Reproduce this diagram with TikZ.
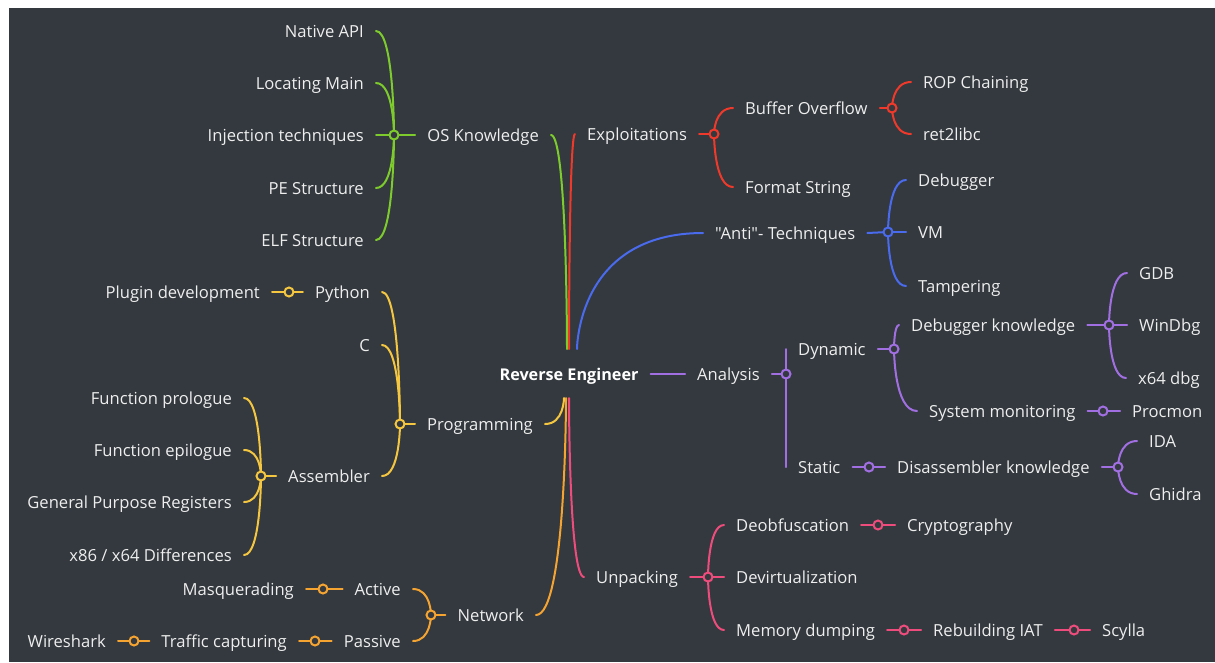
\documentclass[tikz,border=0pt]{standalone}
\usepackage{fontspec}
\setmainfont{Open Sans}[Ligatures=TeXOff]
\usetikzlibrary{calc}
\definecolor{bgdark}{HTML}{33393E}
\definecolor{txtgrey}{HTML}{EEEEEE}
\definecolor{osgreen}{HTML}{7DCB2C}
\definecolor{expred}{HTML}{F0392A}
\definecolor{antiblue}{HTML}{4A6BEE}
\definecolor{anapurple}{HTML}{A26FE2}
\definecolor{unppink}{HTML}{EE4C7C}
\definecolor{prgyellow}{HTML}{F5C640}
\definecolor{netorange}{HTML}{F5A431}
\tikzset{lbl/.style={text=txtgrey,inner xsep=12pt,inner ysep=0pt,text height=14pt,text depth=2pt,font=\fontsize{16.6}{19}\selectfont},
  rootlbl/.style={lbl,text=white,font=\fontsize{16.2}{19}\selectfont\bfseries},
  link/.style={line width=2pt,line cap=round},
  hub/.style={line width=2pt,fill=bgdark},
  brace/.style={to path={.. controls (\tikztotarget |- \tikztostart) and (\tikztotarget) .. (\tikztotarget)}}}

\begin{document}
\begin{tikzpicture}[x=1pt,y=-1pt]
\useasboundingbox (0,0) rectangle (1215,662);
\fill[white] (0,0) rectangle (1215,662);\fill[bgdark] (9,8) rectangle (1215,662);
% root
\node[rootlbl] (re) at (569,374) {Reverse Engineer};
\coordinate (rt1) at (567,349);\coordinate (rt2) at (569,349);\coordinate (rt3) at (577,349);
\coordinate (rb1) at (564,398);\coordinate (rb2) at (566,398);\coordinate (rb3) at (569,398);
% OS Knowledge
\node[lbl,anchor=east] (os) at (551,135) {OS Knowledge};\coordinate (hOS) at (394,135);
\node[lbl,anchor=east] (nat) at (376,31) {Native API};\node[lbl,anchor=east] (loc) at (376,83) {Locating Main};
\node[lbl,anchor=east] (inj) at (376,135) {Injection techniques};\node[lbl,anchor=east] (pe) at (376,188) {PE Structure};
\node[lbl,anchor=east] (elf) at (376,240) {ELF Structure};
\begin{scope}[link,osgreen]
\draw[brace] (os.east) to (rt1);\draw (os.west) -- (hOS);
\foreach \n in {nat,loc,inj,pe,elf} \draw[brace] (\n.east) to (hOS);
\draw[hub] (hOS) circle (4.5pt);
\end{scope}
% Exploitations
\node[lbl,anchor=west] (exp) at (575,134) {Exploitations};\coordinate (hExp) at (714,134);
\node[lbl,anchor=west] (bof) at (733,108) {Buffer Overflow};\node[lbl,anchor=west] (fmt) at (733,187) {Format String};
\coordinate (hBof) at (892,108);
\node[lbl,anchor=west] (rop) at (911,82) {ROP Chaining};\node[lbl,anchor=west] (r2l) at (911,134) {ret2libc};
\begin{scope}[link,expred]
\draw[brace] (exp.west) to (rt2);\draw (exp.east) -- (hExp);\draw (bof.east) -- (hBof);
\foreach \n in {bof,fmt} \draw[brace] (\n.west) to (hExp);
\foreach \n in {rop,r2l} \draw[brace] (\n.west) to (hBof);
\draw[hub] (hExp) circle (4.5pt);\draw[hub] (hBof) circle (4.5pt);
\end{scope}
% Anti techniques
\node[lbl,anchor=west] (anti) at (703,233) {"Anti"- Techniques};\coordinate (hAnti) at (888,232);
\node[lbl,anchor=west] (dbg) at (906,180) {Debugger};\node[lbl,anchor=west] (vm) at (906,232) {VM};
\node[lbl,anchor=west] (tmp) at (906,286) {Tampering};
\begin{scope}[link,antiblue]
\draw[brace] (anti.west) to (rt3);\draw (anti.east) -- (hAnti);
\foreach \n in {dbg,vm,tmp} \draw[brace] (\n.west) to (hAnti);
\draw[hub] (hAnti) circle (4.5pt);
\end{scope}
% Analysis
\node[lbl,anchor=west] (ana) at (685,374) {Analysis};\coordinate (hAna) at (786,374);
\node[lbl,anchor=west] (dyn) at (786,349) {Dynamic};\node[lbl,anchor=west] (sta) at (786,467) {Static};
\coordinate (hDyn) at (894,349);\coordinate (hSta) at (869,467);
\node[lbl,anchor=west] (dbk) at (899,325) {Debugger knowledge};\node[lbl,anchor=west] (sys) at (917,411) {System monitoring};
\coordinate (hDbk) at (1109,325);\coordinate (hSys) at (1103,411);
\node[lbl,anchor=west] (gdb) at (1127,273) {GDB};\node[lbl,anchor=west] (wdb) at (1127,325) {WinDbg};
\node[lbl,anchor=west] (xdb) at (1126,378) {x64 dbg};\node[lbl,anchor=west] (pmon) at (1120,411) {Procmon};
\node[lbl,anchor=west] (dis) at (885,467) {Disassembler knowledge};\coordinate (hDis) at (1118,467);
\node[lbl,anchor=west] (ida) at (1137,441) {IDA};\node[lbl,anchor=west] (ghi) at (1137,494) {Ghidra};
\begin{scope}[link,anapurple]
\draw (re.east) -- (ana.west);\draw (ana.east) -- (hAna);
\foreach \n in {dyn,sta} \draw[brace] (\n.west) to (hAna);
\draw (dyn.east) -- (hDyn);\foreach \n in {dbk,sys} \draw[brace] (\n.west) to (hDyn);
\draw (dbk.east) -- (hDbk);\foreach \n in {gdb,wdb,xdb} \draw[brace] (\n.west) to (hDbk);
\draw (sys.east) -- (pmon.west);\draw (sta.east) -- (dis.west);
\draw (dis.east) -- (hDis);\foreach \n in {ida,ghi} \draw[brace] (\n.west) to (hDis);
\foreach \h in {hAna,hDyn,hDbk,hSys,hSta,hDis} \draw[hub] (\h) circle (4.5pt);
\end{scope}
% Programming
\node[lbl,anchor=east] (prg) at (545,424) {Programming};\coordinate (hPrg) at (400,424);
\node[lbl,anchor=east] (py) at (382,292) {Python};\node[lbl,anchor=east] (cc) at (382,345) {C};
\node[lbl,anchor=east] (asm) at (382,476) {Assembler};
\coordinate (hPy) at (289,292);\node[lbl,anchor=east] (plg) at (272,292) {Plugin development};
\coordinate (hAsm) at (261,476);
\node[lbl,anchor=east] (fpr) at (244,398) {Function prologue};\node[lbl,anchor=east] (fep) at (244,450) {Function epilogue};
\node[lbl,anchor=east] (gpr) at (244,502) {General Purpose Registers};\node[lbl,anchor=east] (xdf) at (244,555) {x86 / x64 Differences};
\begin{scope}[link,prgyellow]
\draw[brace] (prg.east) to (rb1);\draw (prg.west) -- (hPrg);
\foreach \n in {py,cc,asm} \draw[brace] (\n.east) to (hPrg);
\draw (py.west) -- (plg.east);\draw (asm.west) -- (hAsm);
\foreach \n in {fpr,fep,gpr,xdf} \draw[brace] (\n.east) to (hAsm);
\foreach \h in {hPrg,hPy,hAsm} \draw[hub] (\h) circle (4.5pt);
\end{scope}
% Network
\node[lbl,anchor=east] (net) at (536,615) {Network};\coordinate (hNet) at (431,615);
\node[lbl,anchor=east] (act) at (413,589) {Active};\node[lbl,anchor=east] (pas) at (413,641) {Passive};
\coordinate (hAct) at (323,589);\node[lbl,anchor=east] (msq) at (306,589) {Masquerading};
\coordinate (hPas) at (315,641);\node[lbl,anchor=east] (trf) at (299,641) {Traffic capturing};
\coordinate (hTrf) at (134,641);\node[lbl,anchor=east] (wsh) at (118,641) {Wireshark};
\begin{scope}[link,netorange]
\draw[brace] (net.east) to (rb2);\draw (net.west) -- (hNet);
\foreach \n in {act,pas} \draw[brace] (\n.east) to (hNet);
\draw (act.west) -- (msq.east);\draw (pas.west) -- (trf.east);\draw (trf.west) -- (wsh.east);
\foreach \h in {hNet,hAct,hPas,hTrf} \draw[hub] (\h) circle (4.5pt);
\end{scope}
% Unpacking
\node[lbl,anchor=west] (unp) at (584,577) {Unpacking};\coordinate (hUnp) at (708,577);
\node[lbl,anchor=west] (deo) at (724,525) {Deobfuscation};\node[lbl,anchor=west] (dev) at (724,577) {Devirtualization};
\node[lbl,anchor=west] (mem) at (724,630) {Memory dumping};
\coordinate (hDeo) at (878,525);\node[lbl,anchor=west] (cry) at (895,525) {Cryptography};
\coordinate (hMem) at (904,630);\node[lbl,anchor=west] (iat) at (921,630) {Rebuilding IAT};
\coordinate (hIat) at (1074,630);\node[lbl,anchor=west] (scy) at (1090,630) {Scylla};
\begin{scope}[link,unppink]
\draw[brace] (unp.west) to (rb3);\draw (unp.east) -- (hUnp);
\foreach \n in {deo,dev,mem} \draw[brace] (\n.west) to (hUnp);
\draw (deo.east) -- (cry.west);\draw (mem.east) -- (iat.west);\draw (iat.east) -- (scy.west);
\foreach \h in {hUnp,hDeo,hMem,hIat} \draw[hub] (\h) circle (4.5pt);
\end{scope}
\end{tikzpicture}
\end{document}
